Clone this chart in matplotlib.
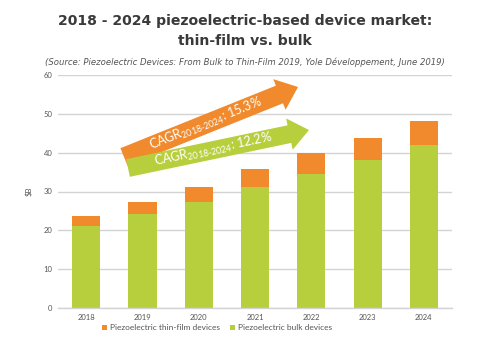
import numpy as np
import matplotlib
matplotlib.use("Agg")
import matplotlib.pyplot as plt
from matplotlib.patches import Polygon

plt.rcParams['mathtext.fontset'] = 'custom'
plt.rcParams['mathtext.rm'] = 'Lato'
plt.rcParams['mathtext.it'] = 'Lato:italic'
plt.rcParams['mathtext.bf'] = 'Lato:bold'

# Market values, $B
years = ["2018", "2019", "2020", "2021", "2022", "2023", "2024"]
bulk = [21.0, 24.3, 27.3, 31.2, 34.6, 38.2, 42.0]
thin_film = [2.7, 2.9, 3.9, 4.6, 5.2, 5.6, 6.1]
yticks = [0, 10, 20, 30, 40, 50, 60]
cagr_thin = "15.3%"
cagr_bulk = "12.2%"

ORANGE = "#F08A2C"
GREEN = "#B8CF3D"
GRID = "#D3D3D3"
TXT = "#555555"

W, H = 490, 343
fig = plt.figure(figsize=(W / 100, H / 100), dpi=100)
ax = fig.add_axes([58 / W, 1 - 308 / H, (452 - 58) / W, (308 - 75) / H])

x = np.arange(len(years))
ax.bar(x, bulk, width=0.5, color=GREEN, zorder=2, label="Piezoelectric bulk devices")
ax.bar(x, thin_film, width=0.5, bottom=bulk, color=ORANGE, zorder=2,
       label="Piezoelectric thin-film devices")

ax.set_xlim(-0.5, 6.5)
ax.set_ylim(0, 60)
ax.set_yticks(yticks)
ax.set_yticklabels([str(v) for v in yticks], fontsize=5.5, color=TXT, family="Lato")
ax.set_xticks(x)
ax.set_xticklabels(years, fontsize=5.5, color=TXT, family="Lato")
ax.yaxis.grid(True, color=GRID, linewidth=1.0, zorder=0)
ax.set_axisbelow(True)
for s in ["top", "right", "left"]:
    ax.spines[s].set_visible(False)
ax.spines["bottom"].set_color(GRID)
ax.spines["bottom"].set_linewidth(1.0)
ax.tick_params(axis="both", length=0, pad=4)
ax.set_ylabel("$B", fontsize=5.5, color=TXT, family="Lato", labelpad=8)

# Legend below the plot, thin-film first
handles, labels = ax.get_legend_handles_labels()
fig.legend(handles[::-1], labels[::-1], loc="center", ncol=2,
           bbox_to_anchor=(217 / W, 1 - 328 / H), frameon=False,
           prop={"family": "Lato", "size": 6}, labelcolor=TXT,
           handlelength=0.6, handleheight=0.6, handletextpad=0.4, columnspacing=1.2)

# Titles
fig.text(0.5, 1 - 21 / H, "2018 - 2024 piezoelectric-based device market:",
         ha="center", va="center", fontsize=10.1, fontweight="bold", color="#3a3a3a",
         family="DejaVu Sans")
fig.text(0.5, 1 - 41 / H, "thin-film vs. bulk",
         ha="center", va="center", fontsize=10.1, fontweight="bold", color="#3a3a3a",
         family="DejaVu Sans")
fig.text(0.5, 1 - 62 / H,
         "(Source: Piezoelectric Devices: From Bulk to Thin-Film 2019, Yole Développement, June 2019)",
         ha="center", va="center", fontsize=6.1, style="italic", color="#555555",
         family="DejaVu Sans")


def growth_arrow(start, tip, thick, head_w, head_len, color, label, fsize):
    """Draw a broad arrow in pixel space (y downward) with a label along it."""
    sx, sy = start
    tx, ty = tip
    d = np.array([tx - sx, ty - sy], dtype=float)
    L = np.hypot(*d)
    u = d / L
    n = np.array([u[1], -u[0]])  # normal pointing up on screen
    p0 = np.array(start, dtype=float)
    base = p0 + u * (L - head_len)
    pts = [p0 + n * thick / 2, base + n * thick / 2, base + n * head_w / 2,
           np.array(tip, dtype=float), base - n * head_w / 2,
           base - n * thick / 2, p0 - n * thick / 2]
    fpts = [(p[0] / W, 1 - p[1] / H) for p in pts]
    fig.patches.append(Polygon(fpts, closed=True, transform=fig.transFigure,
                               facecolor=color, edgecolor="none", zorder=5))
    ang = np.degrees(np.arctan2(-d[1], d[0]))
    c = p0 + u * (L - head_len) * 0.53
    fig.text(c[0] / W, 1 - c[1] / H, label, rotation=ang, rotation_mode="anchor",
             ha="center", va="center", fontsize=fsize, color="white",
             family="Lato", zorder=6)


growth_arrow((124, 157), (298, 87), 19, 33, 20, ORANGE,
             r"CAGR$_{\text{2018-2024}}$: " + cagr_thin, 9)
growth_arrow((128, 168), (309, 130), 18, 32, 20, GREEN,
             r"CAGR$_{\text{2018-2024}}$: " + cagr_bulk, 9)

fig.savefig("out.png", dpi=100, facecolor="white")
